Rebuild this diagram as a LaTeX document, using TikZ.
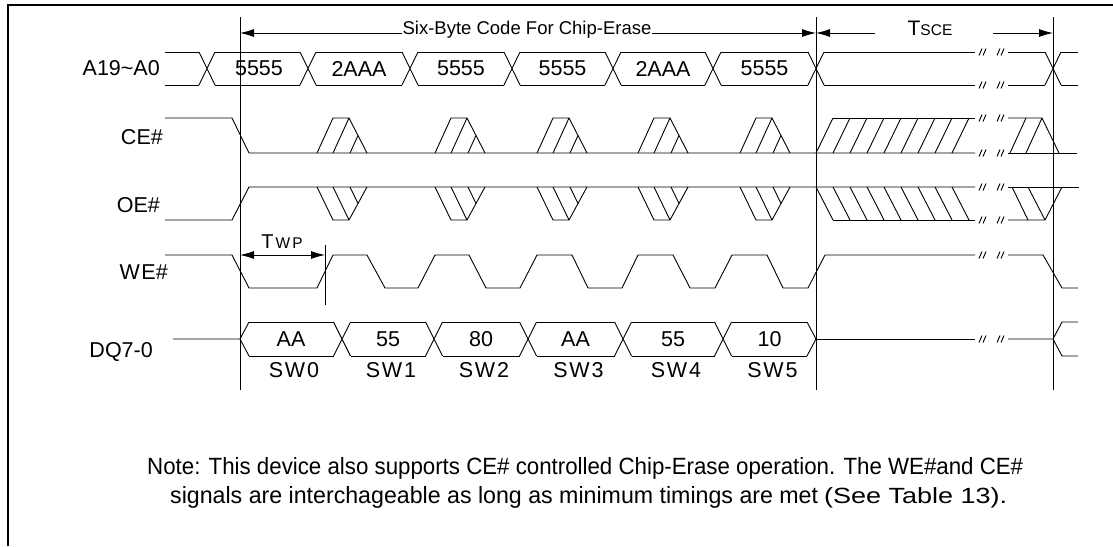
\documentclass[tikz,border=0pt]{standalone}
\usepackage{fontspec}
\usepackage{graphicx}
\setmainfont{Liberation Sans}
\usetikzlibrary{arrows.meta}
\newcommand\brkm[2]{\draw[sig] (#1,#2+3.5)--(#1+3,#2-3.5) (#1+4,#2+3.5)--(#1+7,#2-3.5);}
\begin{document}
\begin{tikzpicture}[x=1pt,y=-1pt,
  sig/.style={line width=0.9pt},
  guide/.style={line width=0.9pt},
  dim/.style={line width=0.9pt},
  lbl/.style={font=\fontsize{21.5}{24}\selectfont, inner sep=0pt},
  rowlbl/.style={font=\fontsize{21.5}{24}\selectfont, inner sep=0pt, anchor=east}]
\useasboundingbox (0,0) rectangle (1113,546);
% frame
\draw[line width=2.5pt] (8,546) -- (8,5) -- (1113,5);
% guide lines
\foreach \x in {240,816,1053} \draw[guide] (\x,17) -- (\x,390);
% row labels
\node[rowlbl] (la) at (160,68) {A19\textasciitilde A0};
\node[rowlbl] (lce) at (163,137) {CE\#};
\node[rowlbl] (loe) at (160,205) {OE\#};
\node[rowlbl] (lwe) at (168,272) {W\kern1.5pt E\#};
\node[rowlbl] (ldq) at (153,352) {DQ7-0};
% ---------- A19~A0 ----------
\foreach \c in {207,308,410,512,613,713,816,1053}
  \draw[sig] (\c-8,52)--(\c+8,85) (\c-8,85)--(\c+8,52);
\foreach \a/\b in {165/199,215/300,316/402,418/504,520/605,621/705,721/808,824/975,1008/1045,1061/1078}
  \draw[sig] (\a,52)--(\b,52) (\a,85)--(\b,85);
\foreach \x/\t [count=\i] in {259/5555,359/2AAA,461/5555,562.5/5555,663/2AAA,764.5/5555}
  \node[lbl] (a\i) at (\x,68.5) {\t};
% ---------- CE# ----------
\draw[sig] (165,118)--(232,118)--(249,153)--(975,153);
\draw[sig] (1008,153)--(1077,153);
\foreach \L in {317,435,537,638,740}
  \draw[sig] (\L,153)--(\L+16,118)--(\L+32,118)--(\L+50,153)
             (\L+16,153)--(\L+32,118) (\L+33,153)--(\L+41,135.5);
\draw[sig] (833,118)--(975,118);
\foreach \k in {0,...,8} \draw[sig] (816+17*\k,153)--(833+17*\k,118);
\draw[sig] (1008,118)--(1042,118)--(1059,153);
\draw[sig] (1010,153)--(1026,118) (1026,153)--(1042,118);
% ---------- OE# ----------
\draw[sig] (165,220)--(232,220)--(249,187)--(975,187);
\draw[sig] (1008,187)--(1079,187);
\foreach \L in {317,435,537,638,740}
  \draw[sig] (\L,187)--(\L+16,220)--(\L+32,220)--(\L+50,187)
             (\L+16,187)--(\L+32,220) (\L+33,187)--(\L+41,203.5);
\draw[sig] (833,220)--(975,220);
\foreach \k in {0,...,8} \draw[sig] (816+17*\k,187)--(833+17*\k,220);
\draw[sig] (1008,220)--(1045,220)--(1062,187);
\draw[sig] (1012,187)--(1028,220) (1028,187)--(1045,220);
% ---------- WE# ----------
\draw[sig] (165,255)--(232,255)--(249,288)--(317,288)--(333,255)--(367,255)--(385,288)
  --(418,288)--(435,255)--(469,255)--(486,288)--(520,288)--(537,255)--(572,255)--(588,288)
  --(622,288)--(638,255)--(673,255)--(690,288)--(715,288)--(732,255)--(767,255)--(783,288)
  --(808,288)--(825,255)--(975,255);
\draw[sig] (1008,255)--(1043,255)--(1062,288)--(1078,288);
% TWP
\coordinate (w0) at (240,255);
\coordinate (w1) at (325,255);
\draw[guide] (325,245) -- (325,305);
\draw[dim,{Latex[length=14pt,width=8pt]}-{Latex[length=14pt,width=8pt]}] (w0) -- (w1);
\node[inner sep=0pt] (twp) at (282,242) {\fontsize{20}{22}\selectfont T\kern2pt{\fontsize{15.5}{17}\selectfont W\kern2pt P}};
% ---------- DQ7-0 ----------
\draw[sig] (173,339)--(240,339)--(249,322) (240,339)--(249,356);
\foreach \c in {342,434,528,623,723}
  \draw[sig] (\c-8.5,322)--(\c+8.5,356) (\c-8.5,356)--(\c+8.5,322);
\foreach \a/\b in {249/333.5,350.5/425.5,442.5/519.5,536.5/614.5,631.5/714.5,731.5/807}
  \draw[sig] (\a,322)--(\b,322) (\a,356)--(\b,356);
\draw[sig] (807,322)--(816,339)--(807,356);
\draw[sig] (816,339)--(975,339);
\draw[sig] (1008,339)--(1053,339)--(1062,322)--(1078,322) (1053,339)--(1062,356)--(1078,356);
\foreach \x/\t/\s [count=\i] in {291/AA/0,388/55/1,481/80/2,575.5/AA/3,673/55/4,769.5/10/5}{
  \node[lbl] (d\i) at (\x,339.5) {\t};
  \node[lbl] (sw\i) at (\x+3,370) {S\kern1.5pt W\kern2pt\s};
}
% ---------- break marks ----------
\foreach \y in {52,85,118,153,187,220,255,339}{
  \brkm{979}{\y}
  \brkm{997}{\y}
}
% ---------- top dimension arrows ----------
\coordinate (s0) at (240,33);
\coordinate (s1) at (816,33);
\draw[dim,{Latex[length=14pt,width=8pt]}-{Latex[length=14pt,width=8pt]}] (s0) -- (s1);
\node[fill=white, inner xsep=0.6pt, inner ysep=1pt] (six) at (527,30)
  {\fontsize{18.5}{21}\selectfont Six-Byte Code For Chip-Erase};
\node[inner sep=0pt] (tsce) at (930,28) {\fontsize{21}{22}\selectfont T{\fontsize{15.5}{17}\selectfont SCE}};
\coordinate (t0) at (875,33);
\coordinate (t1) at (993,33);
\draw[dim,-{Latex[length=14pt,width=8pt]}] (t0) -- (s1);
\draw[dim,-{Latex[length=14pt,width=8pt]}] (t1) -- (1053,33);
% ---------- note ----------
\node[inner sep=0pt, anchor=base west] (note1) at (147,474)
  {\resizebox{876pt}{\height}{\fontsize{23.5}{26}\selectfont Note: This device also supports CE\# controlled Chip-Erase operation. The WE\#and CE\#}};
\node[inner sep=0pt, anchor=base west] (note2) at (170,503)
  {\resizebox{648pt}{\height}{\fontsize{23.5}{26}\selectfont signals are interchageable as long as minimum timings are met}};
\node[inner sep=0pt, anchor=base west] (note3) at (824,503)
  {\resizebox{183pt}{\height}{\fontsize{22}{24}\selectfont (See Table 13).}};
\end{tikzpicture}
\end{document}
